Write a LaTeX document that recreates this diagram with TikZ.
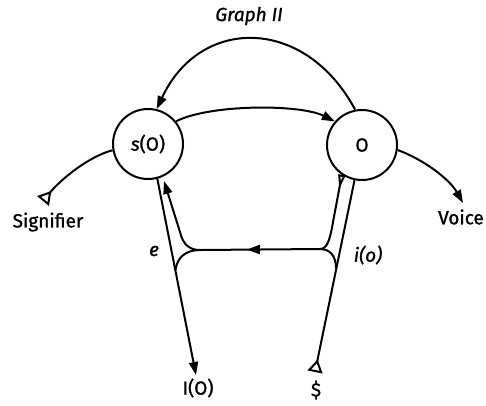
\documentclass[tikz,border=0pt]{standalone}
\usepackage{fontspec}
\setmainfont{Fira Sans}[UprightFeatures={FakeBold=1.2},ItalicFeatures={FakeBold=1.2}]
\usetikzlibrary{arrows.meta,decorations.markings}

\begin{document}
\begin{tikzpicture}[x=1pt,y=-1pt,line width=2pt,
  every node/.style={font=\fontsize{19}{19}\selectfont,inner sep=0pt},
  place/.style={circle,draw,minimum size=70pt,inner sep=0pt},
  fwd/.style={-{Triangle[length=13pt,width=9pt]}},
  tailmark/.style={-{Triangle[open,reversed,length=13pt,width=15pt]}},
  midleft/.style={postaction={decorate},decoration={markings,
    mark=at position 0.61 with {\arrow{Triangle[length=13pt,width=9pt]}}}}]
\useasboundingbox (0,0) rectangle (486,405);

% the two places of the graph
\node[place] (sO) at (148,144) {\textit{s}(O)};
\node[place] (O) at (362,145) {O};

% free ends and junctions
\coordinate (sig) at (43,201);
\coordinate (voice) at (463,203);
\coordinate (IO) at (196,375);
\coordinate (S) at (315,372);
\coordinate (jl) at (200,250);
\coordinate (jr) at (320,249);
\coordinate (la) at (164,181);
\coordinate (lm) at (175.5,270);
\coordinate (rm) at (336,268);

% upper arcs
\draw[fwd] (O.101) .. controls (305,16) and (200,16) .. (sO.76);
\draw[fwd] (sO.39) .. controls (210,104) and (300,104) .. (O.139);

% Signifier and Voice
\draw[tailmark] (sO.190) .. controls (90,156) and (62,178) .. (sig);
\draw[fwd] (O.352) .. controls (425,160) and (450,180) .. (voice);

% left branch
\draw[fwd] (sO.285) -- (IO);
\draw[fwd] (jl) .. controls (190,250) and (183,245) .. (180,232) -- (la);
\draw (jl) .. controls (185,250) and (177,258) .. (lm);

% crossing line
\draw[midleft] (jr) -- (jl);

% right branch
\draw[{Triangle[open,reversed,length=14pt,width=7pt]}-] (O.236) -- (333,222) .. controls (330,240) and (327,249) .. (jr);
\draw[tailmark] (O.258) -- (S);
\draw (jr) .. controls (330,249) and (336,256) .. (rm);

% labels
\node at (249,16) {\itshape Graph II};
\node at (48,222) {Signifier};
\node at (461,217) {Voice};
\node at (154,251) {\itshape e};
\node at (368,255) {\itshape i(o)};
\node at (198,388) {I(O)};
\node at (316,390) {\$};
\end{tikzpicture}
\end{document}
